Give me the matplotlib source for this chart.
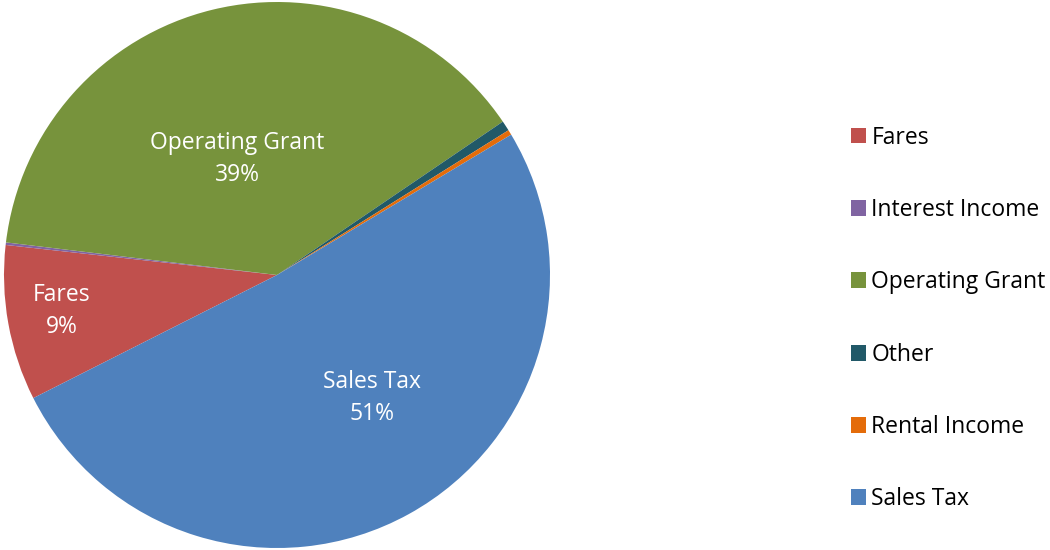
import numpy as np
import matplotlib
matplotlib.use("Agg")
import matplotlib.pyplot as plt

plt.rcParams["font.family"] = ["Open Sans", "DejaVu Sans"]

categories = ["Fares", "Interest Income", "Operating Grant", "Other", "Rental Income", "Sales Tax"]
shares = [9.2, 0.15, 38.6, 0.6, 0.3, 51.15]
colors = ["#C0504D", "#8064A2", "#77933C", "#215968", "#E46C0A", "#4F81BD"]

# where the in-slice labels sit: (clockwise angle from top in degrees, radius fraction)
label_pos = {"Fares": (260.6, 0.80), "Operating Grant": (341.0, 0.45), "Sales Tax": (142.2, 0.57)}

fig = plt.figure(figsize=(10.5, 5.5), dpi=100)
ax = fig.add_axes([4 / 1050, 2 / 550, 546 / 1050, 546 / 550])
wedges, _ = ax.pie(shares, colors=colors, startangle=206.8, counterclock=False,
                   wedgeprops=dict(linewidth=0))
ax.set_xlim(-1, 1)
ax.set_ylim(-1, 1)
ax.set_aspect("equal")

total = sum(shares)
for name, val in zip(categories, shares):
    if name not in label_pos:
        continue
    th, r = label_pos[name]
    x = r * np.sin(np.radians(th))
    y = r * np.cos(np.radians(th))
    ax.text(x, y, f"{name}\n{val / total * 100:.0f}%", color="white", fontsize=16.5,
            ha="center", va="center", linespacing=1.45)

fig.legend(wedges, categories, loc="upper left", bbox_to_anchor=(830 / 1050, 1 - 105 / 550),
           frameon=False, fontsize=16.5, handlelength=0.68, handleheight=0.68,
           handletextpad=0.23, labelspacing=2.11)

fig.savefig("out.png", dpi=100)
